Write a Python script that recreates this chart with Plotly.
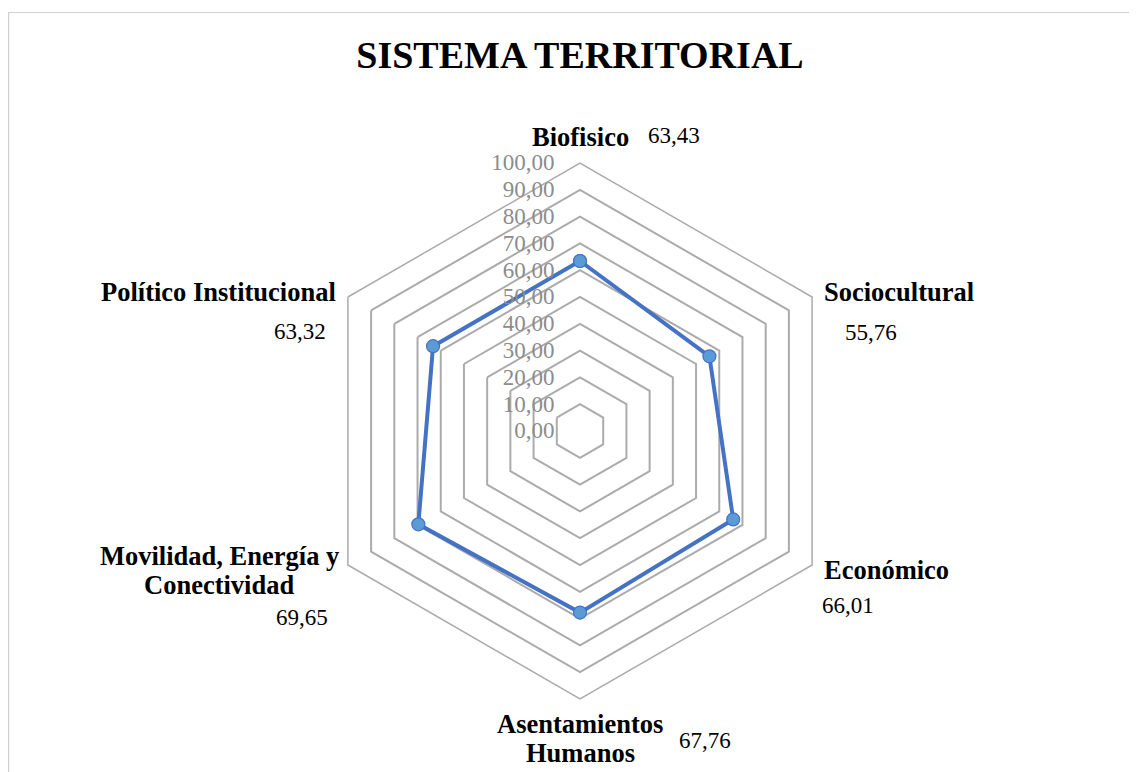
import plotly.graph_objects as go

categories = ["Biofisico", "Sociocultural", "Económico", "Asentamientos Humanos",
              "Movilidad, Energía y Conectividad", "Político Institucional"]
values = [63.43, 55.76, 66.01, 67.76, 69.65, 63.32]

# category label lines as excel wraps them
label_lines = [["Biofisico"], ["Sociocultural"], ["Económico"],
               ["Asentamientos", "Humanos"], ["Movilidad, Energía y", "Conectividad"],
               ["Político Institucional"]]

# layout of the labels in screen pixels: (x, y of first line, xanchor)
cat_pos = [(580, 137, "center"), (822, 292, "left"), (822, 570, "left"),
           (580, 724, "center"), (219, 556, "center"), (338, 292, "right")]
val_pos = [(674, 135), (871, 333), (848, 605), (705, 740), (302, 617), (300, 332)]
LINE_GAP = 29

FONT = "Times New Roman, Liberation Serif, serif"
W, H = 1137, 772
OFF = 8  # page body margin
cx, cy, rad = 580, 431, 268


def px(x):
    return (x - OFF) / W


def py(y):
    return 1 - (y - OFF) / H


fig = go.Figure()
fig.add_trace(go.Scatterpolar(
    r=values + values[:1],
    theta=categories + categories[:1],
    mode="lines+markers",
    line=dict(color="#4472C4", width=4),
    marker=dict(size=13, color="#5B9BD5", line=dict(color="#4472C4", width=1.2)),
    hoverinfo="skip",
))

for lines, (x, y, anchor) in zip(label_lines, cat_pos):
    for i, t in enumerate(lines):
        fig.add_annotation(
            x=px(x), y=py(y + i * LINE_GAP), xref="paper", yref="paper",
            xanchor=anchor, yanchor="middle", text=f"<b>{t}</b>", showarrow=False,
            font=dict(family=FONT, size=26.5, color="#000000"),
        )

for v, (x, y) in zip(values, val_pos):
    fig.add_annotation(
        x=px(x), y=py(y), xref="paper", yref="paper",
        xanchor="center", yanchor="middle",
        text=f"{v:.2f}".replace(".", ","), showarrow=False,
        font=dict(family=FONT, size=23, color="#000000"),
    )

fig.add_shape(type="rect", xref="paper", yref="paper",
              x0=0.6 / W, x1=1.02, y0=-0.02, y1=py(12.5),
              line=dict(color="#D0D0D0", width=1.2), fillcolor="rgba(0,0,0,0)")

fig.update_layout(
    width=W, height=H,
    margin=dict(l=0, r=0, t=0, b=0),
    paper_bgcolor="white",
    separators=",.",
    showlegend=False,
    title=dict(text="<b>SISTEMA TERRITORIAL</b>", x=px(580), xanchor="center",
               y=py(55), yanchor="middle",
               font=dict(family=FONT, size=38, color="#000000")),
    polar=dict(
        bgcolor="white",
        gridshape="linear",
        domain=dict(x=[px(cx - rad), px(cx + rad)],
                    y=[py(cy + rad), py(cy - rad)]),
        radialaxis=dict(
            range=[0, 100], dtick=10, tick0=0, tickformat=".2f",
            angle=90, tickangle=90, side="counterclockwise",
            showline=False, ticks="outside", ticklen=17, tickcolor="rgba(0,0,0,0)",
            gridcolor="#ABABAB", gridwidth=1.5,
            tickfont=dict(family=FONT, size=23, color="#8C8C8C"),
        ),
        angularaxis=dict(
            categoryarray=categories, categoryorder="array",
            rotation=90, direction="clockwise",
            showgrid=False, showline=True, linecolor="#ABABAB", linewidth=1.5,
            ticks="", showticklabels=False,
        ),
    ),
)

fig.write_html("out.html")
